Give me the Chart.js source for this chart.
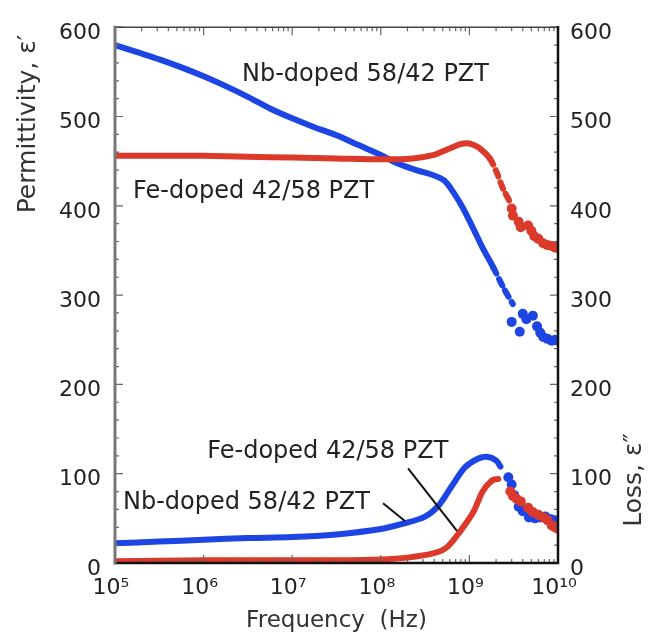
<!DOCTYPE html>
<html>
<head>
<meta charset="utf-8">
<script src="https://cdn.jsdelivr.net/npm/chart.js@4.4.1/dist/chart.umd.min.js"></script>
<style>
  body { margin: 0; background: #fff; }
  #wrap { width: 648px; height: 637px; }
</style>
</head>
<body>
<div id="wrap"><canvas id="myChart" width="648" height="637"></canvas></div>
<script>
// x ticks (decades) and labels
const xTickValues = [1e5, 1e6, 1e7, 1e8, 1e9, 1e10];
const xTickLabels = ['10\u2075', '10\u2076', '10\u2077', '10\u2078', '10\u2079', '10\u00b9\u2070'];

// permittivity, Nb-doped 58/42 (continuous part)
const nbPermFreq = [1e5, 1.78e5, 3.16e5, 5.62e5, 1e6, 1.78e6, 3.16e6, 5.62e6, 1e7, 1.78e7, 3.16e7, 5.62e7,
  1e8, 1.58e8, 2.51e8, 3.98e8, 5.25e8, 6.61e8, 8.51e8, 1.1e9, 1.41e9, 1.86e9, 2.4e9, 3.09e9];
const nbPermVal = [580, 572, 564, 555, 545, 534, 522, 509, 498, 488, 479, 468,
  457, 447, 440, 434, 428, 415, 397, 375, 353, 331, 309, 290];
// scattered points at the top end
const nbPermTailFreq = [3.0e9, 3.7e9, 4.0e9, 4.4e9, 5.2e9, 5.8e9, 6.3e9, 6.8e9, 7.6e9, 8.5e9, 9.3e9, 1e10];
const nbPermTailVal = [270, 259, 279, 273, 277, 265, 258, 253, 251, 249, 250, 249];

// permittivity, Fe-doped 42/58
const fePermFreq = [1e5, 3.16e5, 1e6, 3.16e6, 1e7, 3.16e7, 1e8, 2.29e8, 3.98e8, 5.62e8, 7.94e8, 9.55e8,
  1.12e9, 1.32e9, 1.7e9, 2.04e9, 2.4e9, 2.88e9];
const fePermVal = [456, 456, 456, 455, 454, 453, 452, 453, 457, 463, 469, 470,
  468, 464, 453, 437, 419, 404];
const fePermTailFreq = [3.0e9, 3.1e9, 3.6e9, 3.8e9, 4.6e9, 5.0e9, 5.4e9, 6.0e9, 6.8e9, 7.6e9, 8.5e9, 9.4e9, 1e10];
const fePermTailVal = [397, 389, 382, 376, 378, 372, 366, 363, 358, 356, 355, 353, 355];

// loss, Nb-doped 58/42
const nbLossFreq = [1e5, 3.16e5, 1e6, 3.16e6, 1e7, 3.16e7, 1e8, 1.78e8, 3.16e8, 4.47e8, 6.31e8, 8.91e8,
  1.26e9, 1.58e9, 2e9, 2.24e9];
const nbLossVal = [22, 24, 26, 28, 29, 32, 38, 44, 52, 64, 86, 107, 117, 119, 115, 108];
const nbLossTailFreq = [2.75e9, 3.0e9, 3.2e9, 3.6e9, 4.0e9, 4.7e9, 5.5e9, 6.3e9, 7.2e9, 8.3e9, 9.2e9, 1e10];
const nbLossTailVal = [96, 88, 76, 63, 58, 51, 50, 51, 52, 49, 48, 47];

// loss, Fe-doped 42/58
const feLossFreq = [1e5, 1e6, 1e7, 3.16e7, 1e8, 2e8, 3.98e8, 5.62e8, 7.94e8, 1.12e9, 1.41e9, 1.78e9, 2.1e9, 2.4e9];
const feLossVal = [2, 3, 3, 3, 4, 6, 11, 18, 36, 58, 80, 92, 94, 92];
const feLossTailFreq = [2.9e9, 3.1e9, 3.4e9, 3.8e9, 4.6e9, 5.2e9, 6.0e9, 6.9e9, 7.6e9, 8.5e9, 9.2e9, 1e10];
const feLossTailVal = [80, 75, 72, 69, 62, 57, 54, 51, 48, 42, 40, 38];

// annotation labels (data coords) and leader lines
const annoTexts = [
  { text: 'Nb-doped 58/42 PZT', x: 2.71e6, y: 540 },
  { text: 'Fe-doped 42/58 PZT', x: 1.6e5, y: 409 },
  { text: 'Fe-doped 42/58 PZT', x: 1.1e6, y: 118 },
  { text: 'Nb-doped 58/42 PZT', x: 1.23e5, y: 60 }
];
const leaders = [[1.06e8, 67, 1.87e8, 47], [2.03e8, 106, 7.24e8, 36]];

const BLUE = '#1d45e4';
const RED = '#db3a2b';
const FONT = '"DejaVu Sans", sans-serif';

function pts(xs, ys) { return xs.map((x, i) => ({ x: x, y: ys[i] })); }

function curve(label, xs, ys, color, dashFrom, order) {
  return {
    label: label, data: pts(xs, ys), showLine: true, order: order,
    borderColor: color, backgroundColor: color, borderWidth: 6,
    borderCapStyle: 'round', pointRadius: 0, tension: 0.3,
    segment: { borderDash: ctx => ctx.p0.parsed.x >= dashFrom ? [7, 6] : undefined }
  };
}
function tail(label, xs, ys, color, order) {
  return {
    label: label, data: pts(xs, ys), showLine: false, order: order,
    backgroundColor: color, borderWidth: 0, pointRadius: 5
  };
}

const datasets = [
  curve('Fe perm', fePermFreq, fePermVal, RED, 1.6e9, 0),
  tail('Fe perm tail', fePermTailFreq, fePermTailVal, RED, 0),
  curve('Fe loss', feLossFreq, feLossVal, RED, 1.7e9, 0),
  tail('Fe loss tail', feLossTailFreq, feLossTailVal, RED, 0),
  curve('Nb perm', nbPermFreq, nbPermVal, BLUE, 1.8e9, 1),
  tail('Nb perm tail', nbPermTailFreq, nbPermTailVal, BLUE, 1),
  curve('Nb loss', nbLossFreq, nbLossVal, BLUE, 2.1e9, 1),
  tail('Nb loss tail', nbLossTailFreq, nbLossTailVal, BLUE, 1)
];

// frame, inward ticks, titles and annotations
const decor = {
  id: 'decor',
  afterDraw(chart) {
    const c = chart.ctx, a = chart.chartArea;
    const xs = chart.scales.x, yl = chart.scales.y;
    c.save();
    // ticks
    c.strokeStyle = '#666'; c.lineWidth = 1.2;
    c.beginPath();
    for (let v = 0; v <= 600; v += 20) {
      const py = yl.getPixelForValue(v);
      const len = v % 100 === 0 ? 8 : 4;
      c.moveTo(a.left, py); c.lineTo(a.left + len, py);
      c.moveTo(a.right, py); c.lineTo(a.right - len, py);
    }
    for (let d = 5; d < 10; d++) {
      for (let k = 1; k < 10; k++) {
        const px = xs.getPixelForValue(k * Math.pow(10, d));
        const len = k === 1 ? 8 : 4;
        c.moveTo(px, a.bottom); c.lineTo(px, a.bottom - len);
        c.moveTo(px, a.top); c.lineTo(px, a.top + len);
      }
    }
    c.stroke();
    // frame
    c.lineCap = 'square';
    c.strokeStyle = '#444'; c.lineWidth = 1.5;
    c.beginPath(); c.moveTo(a.left, a.top); c.lineTo(a.right, a.top); c.stroke();
    c.strokeStyle = '#111'; c.lineWidth = 2.5;
    c.beginPath(); c.moveTo(a.left, a.bottom); c.lineTo(a.right, a.bottom); c.lineTo(a.right, a.top); c.stroke();
    c.strokeStyle = '#777'; c.lineWidth = 3;
    c.beginPath(); c.moveTo(a.left, a.top); c.lineTo(a.left, a.bottom); c.stroke();

    // annotations
    c.fillStyle = '#222';
    c.font = '24px ' + FONT;
    c.textAlign = 'left'; c.textBaseline = 'alphabetic';
    annoTexts.forEach(t => c.fillText(t.text, xs.getPixelForValue(t.x), yl.getPixelForValue(t.y)));
    c.strokeStyle = '#111'; c.lineWidth = 2; c.lineCap = 'butt';
    leaders.forEach(l => {
      c.beginPath();
      c.moveTo(xs.getPixelForValue(l[0]), yl.getPixelForValue(l[1]));
      c.lineTo(xs.getPixelForValue(l[2]), yl.getPixelForValue(l[3]));
      c.stroke();
    });

    // axis titles
    c.fillStyle = '#333';
    c.font = '23px ' + FONT;
    c.textAlign = 'center'; c.textBaseline = 'alphabetic';
    c.fillText('Frequency  (Hz)', (a.left + a.right) / 2, 627);
    c.font = '25px ' + FONT;
    c.textBaseline = 'middle';
    c.save(); c.translate(28, 124); c.rotate(-Math.PI / 2);
    c.fillText('Permittivity, \u03b5\u2032', 0, 0); c.restore();
    c.save(); c.translate(634, 480); c.rotate(-Math.PI / 2);
    c.fillText('Loss, \u03b5\u2033', 0, 0); c.restore();
    c.restore();
  }
};

const yTicks = (pad) => ({
  stepSize: 100, padding: pad, labelOffset: 6, color: '#222',
  font: { family: FONT, size: 22 }
});

const config = {
  type: 'scatter',
  data: { datasets },
  options: {
    responsive: false,
    animation: false,
    layout: { padding: { top: 19, left: 0, right: 0, bottom: 0 } },
    plugins: { legend: { display: false }, tooltip: { enabled: false } },
    scales: {
      x: {
        type: 'logarithmic', position: 'bottom', min: 1e5, max: 1e10,
        grid: { display: false, drawTicks: false }, border: { display: false },
        afterBuildTicks: s => { s.ticks = xTickValues.map(v => ({ value: v, major: true })); },
        afterFit: s => { s.height = 74; },
        ticks: {
          autoSkip: false, maxRotation: 0, padding: 12, labelOffset: -4, color: '#222',
          font: { family: FONT, size: 22 },
          callback: (v) => { const i = xTickValues.indexOf(v); return i >= 0 ? xTickLabels[i] : ''; }
        }
      },
      y: {
        position: 'left', min: 0, max: 600,
        grid: { display: false, drawTicks: false }, border: { display: false },
        afterFit: s => { s.width = 115; },
        ticks: yTicks(14)
      },
      y2: {
        position: 'right', min: 0, max: 600,
        grid: { display: false, drawTicks: false }, border: { display: false },
        afterFit: s => { s.width = 90; },
        ticks: yTicks(12)
      }
    }
  },
  plugins: [decor]
};

const myChart = new Chart(document.getElementById('myChart'), config);
</script>
</body>
</html>
